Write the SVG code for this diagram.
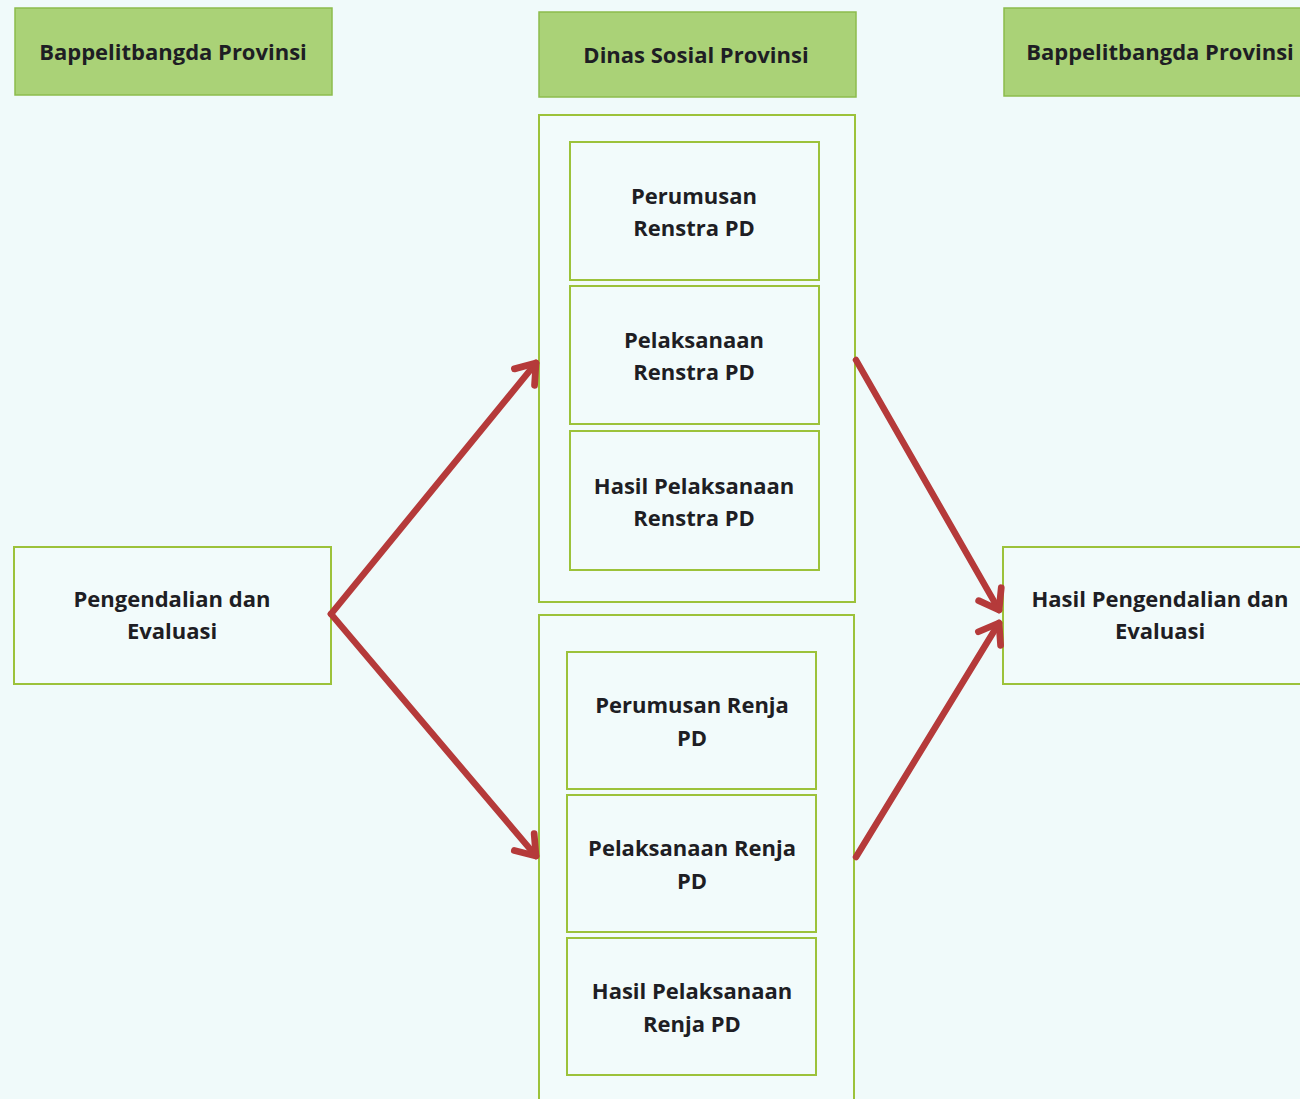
<svg xmlns="http://www.w3.org/2000/svg" width="1300" height="1099" viewBox="0 0 1300 1099">
<style>
.hdr{fill:#aad277;stroke:#8cbc4c;stroke-width:1.5}
.box{fill:#f2fbfb;stroke:#9cc23a;stroke-width:2}
.t{font-family:"Open Sans","Noto Sans","Liberation Sans",sans-serif;font-weight:bold;font-size:22px;fill:#1e1e24;text-anchor:middle}
.arr{stroke:#b53a3a;stroke-width:6.5;fill:none;stroke-linecap:round;stroke-linejoin:round}
</style>
<defs>
<marker id="ah" viewBox="0 0 10 10" refX="9" refY="5" markerWidth="4" markerHeight="4" orient="auto" markerUnits="strokeWidth" overflow="visible">
<path d="M2,0 L9,5 L2,10" fill="none" stroke="#b53a3a" stroke-width="2.6" stroke-linecap="round" stroke-linejoin="round"/>
</marker>
</defs>
<rect width="1300" height="1099" fill="#f0fafa"/>
<g id="hdr-left"><rect class="hdr" x="15" y="8" width="317" height="87"/><text class="t" x="173" y="60">Bappelitbangda Provinsi</text></g>
<g id="hdr-center"><rect class="hdr" x="539" y="12" width="317" height="85"/><text class="t" x="696" y="63">Dinas Sosial Provinsi</text></g>
<g id="hdr-right"><rect class="hdr" x="1004" y="8" width="310" height="88"/><text class="t" x="1160" y="60">Bappelitbangda Provinsi</text></g>
<g id="renstra-group"><rect class="box" x="539" y="115" width="316" height="487"/></g>
<g id="renja-group"><rect class="box" x="539" y="615" width="315" height="500"/></g>
<g id="perumusan-renstra"><rect class="box" x="570" y="142" width="249" height="138"/><text class="t" x="694" y="204">Perumusan</text><text class="t" x="694" y="236">Renstra PD</text></g>
<g id="pelaksanaan-renstra"><rect class="box" x="570" y="286" width="249" height="138"/><text class="t" x="694" y="348">Pelaksanaan</text><text class="t" x="694" y="380">Renstra PD</text></g>
<g id="hasil-renstra"><rect class="box" x="570" y="431" width="249" height="139"/><text class="t" x="694" y="494">Hasil Pelaksanaan</text><text class="t" x="694" y="526">Renstra PD</text></g>
<g id="perumusan-renja"><rect class="box" x="567" y="652" width="249" height="137"/><text class="t" x="692" y="713">Perumusan Renja</text><text class="t" x="692" y="746">PD</text></g>
<g id="pelaksanaan-renja"><rect class="box" x="567" y="795" width="249" height="137"/><text class="t" x="692" y="856">Pelaksanaan Renja</text><text class="t" x="692" y="889">PD</text></g>
<g id="hasil-renja"><rect class="box" x="567" y="938" width="249" height="137"/><text class="t" x="692" y="999">Hasil Pelaksanaan</text><text class="t" x="692" y="1032">Renja PD</text></g>
<g id="pengendalian"><rect class="box" x="14" y="547" width="317" height="137"/><text class="t" x="172" y="607">Pengendalian dan</text><text class="t" x="172" y="639">Evaluasi</text></g>
<g id="hasil-pengendalian"><rect class="box" x="1003" y="547" width="310" height="137"/><text class="t" x="1160" y="607">Hasil Pengendalian dan</text><text class="t" x="1160" y="639">Evaluasi</text></g>
<g id="connectors">
<path class="arr" d="M331,614 L536,363" marker-end="url(#ah)"/>
<path class="arr" d="M331,614 L536,856" marker-end="url(#ah)"/>
<path class="arr" d="M856,360 L999,610" marker-end="url(#ah)"/>
<path class="arr" d="M856,857 L999,623" marker-end="url(#ah)"/>
</g>
</svg>
